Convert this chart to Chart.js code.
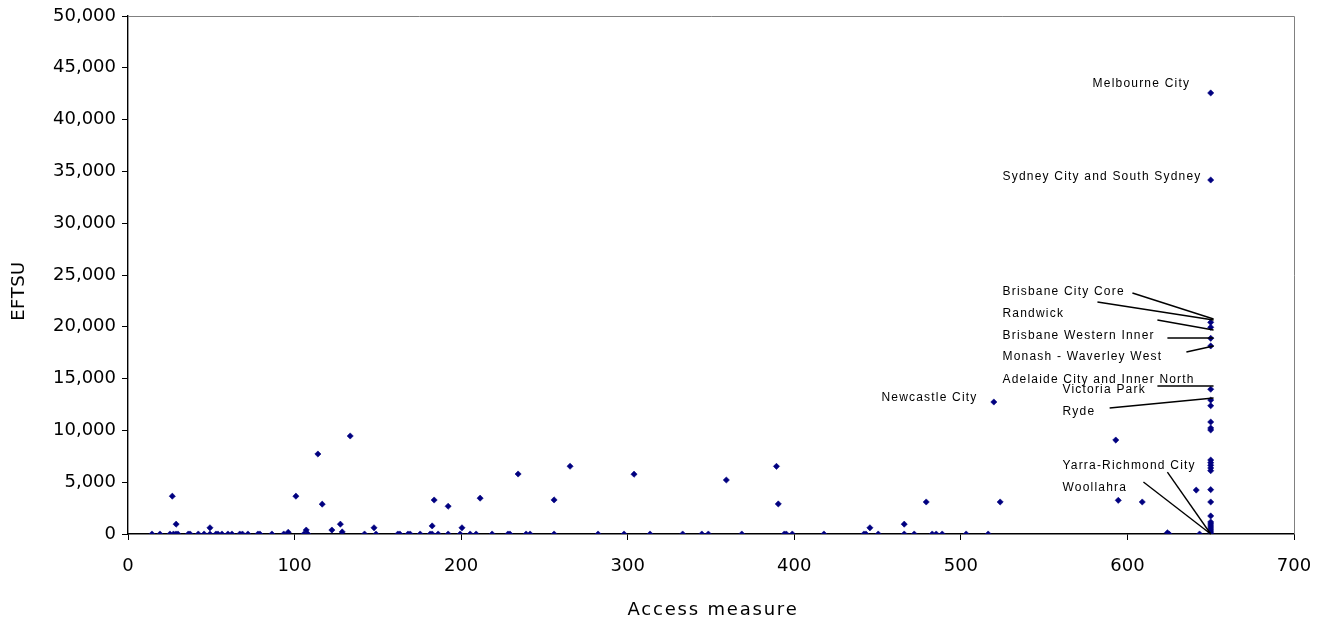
<!DOCTYPE html>
<html><head><meta charset="utf-8">
<script src="https://cdn.jsdelivr.net/npm/chart.js@4"></script>
<style>html,body{margin:0;padding:0;background:#fff}#wrap{width:1322px;height:623px;position:relative}</style>
</head><body><div id="wrap"><canvas id="c"></canvas></div>
<script>
// Access measure (x) and EFTSU (y) per region
const accessX = [
  14.4, 19.2, 25.2, 27.3, 28.8, 30, 36.2, 37.3, 42.2, 45.7, 49.2, 52.8, 54, 56.4, 60, 62.4, 67.1, 68.7, 72, 78, 79.2, 86.4, 93.5, 96.2, 105.6, 107, 108,
  26.6, 28.9, 49.2, 100.8, 114, 116.6, 133.4, 122.4, 127.5, 128.6, 147.7, 182.6, 183.8, 192.2, 200.5, 211.4, 234.2, 255.8, 265.4, 303.8,
  359.2, 389.3, 390.4, 445.4, 466, 479.2, 519.8, 523.6, 593, 594.5, 608.9, 624, 641.3,
  142, 148.9, 162, 163.2, 168.1, 169.4, 175.4, 181.4, 182.6, 186.2, 192.2, 199.4, 205.4, 209, 218.6, 228.1, 229.3, 239, 241.4, 255.8, 282.2, 297.8, 313.4,
  333, 344.5, 348.4, 368.5, 394, 395.2, 398.8, 417.8, 441.8, 443, 450.4, 466, 472, 482.8, 485.2, 488.8, 503.2, 516.4, 625, 643.3,
  650, 650, 650, 650, 650, 650, 650, 650, 650, 650, 650, 650, 650, 650, 650, 650, 650, 650, 650, 650, 650, 650, 650, 650, 650, 650, 650
];
const eftsuY = [
  0, 0, 0, 0, 0, 0, 0, 0, 0, 0, 0, 0, 0, 0, 0, 0, 0, 0, 0, 0, 0, 0, 0, 170, 0, 380, 0,
  3650, 950, 600, 3650, 7720, 2880, 9460, 380, 950, 200, 600, 780, 3280, 2680, 600, 3460, 5790, 3290, 6540, 5770,
  5210, 6530, 2900, 600, 950, 3090, 12740, 3090, 9070, 3250, 3090, 120, 4240,
  0, 0, 0, 0, 0, 0, 0, 0, 0, 0, 0, 0, 0, 0, 0, 0, 0, 0, 0, 0, 0, 0, 0,
  0, 0, 0, 0, 0, 0, 0, 0, 0, 0, 0, 0, 0, 0, 0, 0, 0, 0, 0, 0,
  42570, 34170, 20430, 19950, 18890, 18150, 13970, 12930, 12380, 10810, 10230, 10040, 7140, 6880, 6630, 6370, 6110, 4280, 3090, 1740, 1160, 965, 770, 580, 390, 190, 0
];
// Tick settings
const xTickMin = 0, xTickMax = 700, xTickStep = 100;
const yTickMin = 0, yTickMax = 50000, yTickStep = 5000;
// Region labels (text anchor in data units, left aligned)
const labelTexts = ["Melbourne City", "Sydney City and South Sydney", "Newcastle City", "Brisbane City Core", "Randwick",
  "Brisbane Western Inner", "Monash - Waverley West", "Adelaide City and Inner North", "Victoria Park", "Ryde",
  "Yarra-Richmond City", "Woollahra"];
const labelX = [579.1, 525, 452.3, 525, 525, 525, 525, 525, 561, 561, 561, 561];
const labelY = [43440, 34460, 13130, 23360, 21240, 19110, 17090, 14860, 13900, 11780, 6560, 4440];
// Leader lines (data units)
const leadFromX = [603, 582, 618, 624, 635.4, 618, 589.3, 624, 609.6];
const leadFromY = [23260, 22390, 20660, 18920, 17570, 14290, 12160, 5980, 5020];
const leadToX   = [651.7, 651.7, 651.7, 651.7, 651.7, 651.7, 651.7, 650, 650];
const leadToY   = [20750, 20660, 19690, 18920, 18150, 14290, 13130, 0, 0];

const points = accessX.map((x, i) => ({x: x, y: eftsuY[i]}));

const annot = {
  id: 'annot',
  afterDatasetsDraw(chart) {
    const ctx = chart.ctx, xs = chart.scales.x, ys = chart.scales.y, a = chart.chartArea;
    ctx.save();
    // frame top/right
    ctx.strokeStyle = '#808080'; ctx.lineWidth = 1;
    ctx.beginPath();
    ctx.moveTo(a.left, a.top + 0.5); ctx.lineTo(a.right + 0.5, a.top + 0.5); ctx.lineTo(a.right + 0.5, a.bottom);
    ctx.stroke();
    // leader lines
    ctx.strokeStyle = '#000'; ctx.lineWidth = 1.4;
    for (let i = 0; i < leadFromX.length; i++) {
      ctx.beginPath();
      ctx.moveTo(xs.getPixelForValue(leadFromX[i]), ys.getPixelForValue(leadFromY[i]));
      ctx.lineTo(xs.getPixelForValue(leadToX[i]), ys.getPixelForValue(leadToY[i]));
      ctx.stroke();
    }
    // labels
    ctx.fillStyle = '#000';
    ctx.font = '12px "Liberation Sans", Arial, sans-serif';
    ctx.textAlign = 'left'; ctx.textBaseline = 'middle';
    try { ctx.letterSpacing = '1.2px'; } catch (e) {}
    for (let i = 0; i < labelTexts.length; i++) {
      ctx.fillText(labelTexts[i], xs.getPixelForValue(labelX[i]), ys.getPixelForValue(labelY[i]));
    }
    // axis titles
    ctx.font = '18px "DejaVu Sans", sans-serif';
    ctx.textAlign = 'center';
    try { ctx.letterSpacing = '1.8px'; } catch (e) {}
    ctx.fillText('Access measure', (a.left + a.right) / 2 + 2, 610);
    try { ctx.letterSpacing = '0.5px'; } catch (e) {}
    ctx.translate(19, 291);
    ctx.rotate(-Math.PI / 2);
    ctx.fillText('EFTSU', 0, 0);
    ctx.restore();
  }
};

new Chart(document.getElementById('c'), {
  type: 'scatter',
  data: { datasets: [{
    data: points,
    pointStyle: 'rectRot',
    pointRadius: 3.1,
    pointBorderWidth: 0.6,
    backgroundColor: '#000080',
    borderColor: '#000080'
  }]},
  options: {
    responsive: true, maintainAspectRatio: false, animation: false,
    layout: { padding: { left: 0, top: 16, right: 28, bottom: 0 } },
    plugins: { legend: { display: false }, tooltip: { enabled: false } },
    scales: {
      x: {
        type: 'linear', min: xTickMin, max: xTickMax,
        ticks: { stepSize: xTickStep, color: '#000', padding: 16, font: { family: '"DejaVu Sans", sans-serif', size: 18 } },
        grid: { drawOnChartArea: false, tickLength: 6, color: '#000' },
        border: { color: '#000', width: 1.4 },
        afterFit(s) { s.height = 89; s.paddingLeft = 0; s.paddingRight = 0; }
      },
      y: {
        type: 'linear', min: yTickMin, max: yTickMax,
        ticks: { stepSize: yTickStep, color: '#000', padding: 6, font: { family: '"DejaVu Sans", sans-serif', size: 18 },
          callback: v => v.toLocaleString('en-US') },
        grid: { drawOnChartArea: false, tickLength: 6, color: '#000' },
        border: { color: '#000', width: 1.4 },
        afterFit(s) { s.width = 128; s.paddingTop = 0; s.paddingBottom = 0; }
      }
    }
  },
  plugins: [annot]
});
</script>
</body></html>
